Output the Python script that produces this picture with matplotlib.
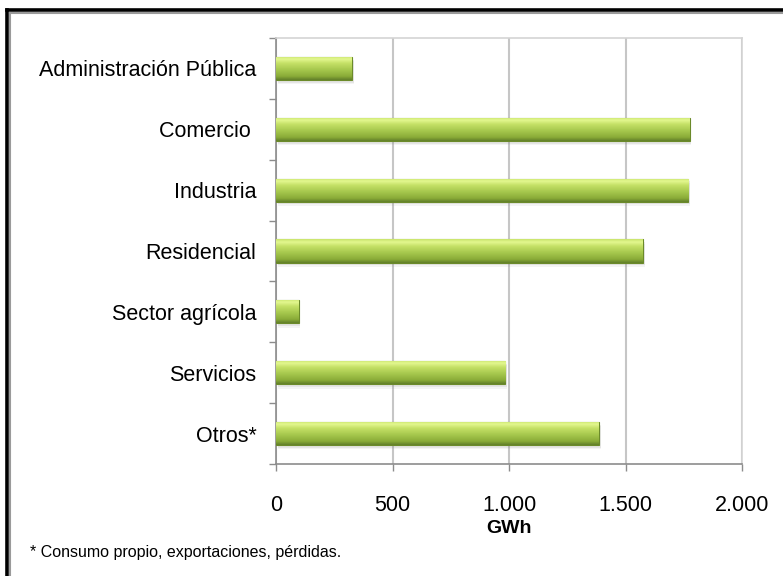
import numpy as np
import matplotlib
matplotlib.use('Agg')
import matplotlib.pyplot as plt
from matplotlib.lines import Line2D
from matplotlib.colors import LinearSegmentedColormap

# Fuente estrecha tipo Arial Narrow (si no está, Liberation Sans)
plt.rcParams['font.family'] = ['Liberation Sans Narrow', 'Liberation Sans', 'DejaVu Sans']

categorias = ['Administración Pública', 'Comercio ', 'Industria', 'Residencial',
              'Sector agrícola', 'Servicios', 'Otros*']
consumo_gwh = [325, 1775, 1770, 1575, 97, 983, 1385]
ticks_x = [0, 500, 1000, 1500, 2000]
etiquetas_x = ['0', '500', '1.000', '1.500', '2.000']
nota = '* Consumo propio, exportaciones, pérdidas.'

W, H = 783, 576
fig = plt.figure(figsize=(W / 100, H / 100), dpi=100, facecolor='white')
ax = fig.add_axes([276 / W, 1 - 464 / H, (742 - 276) / W, (464 - 38) / H])

y = np.arange(len(categorias))
# sombra suave bajo las barras
for dy, a in [(0.07, 0.08), (0.045, 0.12)]:
    ax.barh(y + dy, consumo_gwh, height=0.38, left=8, color='#7f7f7f',
            alpha=a, linewidth=0, zorder=2)
barras = ax.barh(y, consumo_gwh, height=0.38, color='#9cbf45',
                 edgecolor='#6b8a2a', linewidth=0.8, zorder=3)

# degradado vertical tipo biselado de Excel
grad = LinearSegmentedColormap.from_list('verde', [
    (0.0, '#c9e46c'), (0.12, '#e3f78f'), (0.3, '#c4e066'),
    (0.6, '#a3c54b'), (0.85, '#8aab38'), (1.0, '#62802a')])
g = np.linspace(0, 1, 64).reshape(-1, 1)
for b in barras:
    x0, y0, w, h = b.get_x(), b.get_y(), b.get_width(), b.get_height()
    im = ax.imshow(g, cmap=grad, aspect='auto', interpolation='bilinear',
                   extent=[x0, x0 + w, y0 + h, y0], zorder=3.5)
    im.set_clip_path(b)

ax.set_xlim(0, 2000)
ax.set_ylim(len(categorias) - 0.5, -0.5)

ax.set_xticks(ticks_x)
ax.set_xticklabels(etiquetas_x)
ax.tick_params(axis='x', length=5, width=1, color='#8c8c8c', pad=17,
               labelsize=15.5, direction='out')

# marcas entre categorías, etiquetas en el centro
ax.set_yticks(np.arange(-0.5, len(categorias), 1.0))
ax.set_yticklabels([])
ax.set_yticks(y, minor=True)
ax.set_yticklabels(categorias, minor=True)
ax.tick_params(axis='y', which='major', length=5, width=1, color='#8c8c8c')
ax.tick_params(axis='y', which='minor', length=0, pad=14, labelsize=15.5)

ax.grid(axis='x', color='#c6c6c6', linewidth=1.5, zorder=1)
ax.set_axisbelow(True)
for s in ['top', 'right']:
    ax.spines[s].set_color('#d4d4d4')
    ax.spines[s].set_linewidth(1.2)
for s in ['left', 'bottom']:
    ax.spines[s].set_color('#8c8c8c')
    ax.spines[s].set_linewidth(1.2)

ax.set_xlabel('GWh', fontsize=14, fontweight='bold', labelpad=3)
fig.text(30 / W, 1 - 552 / H, nota, fontsize=11.5, va='center', ha='left')

# marco de la imagen (solo borde superior e izquierdo visibles)
fig.add_artist(Line2D([6.5 / W, 1], [1 - 10 / H, 1 - 10 / H], color='black', lw=2.6,
                      transform=fig.transFigure))
fig.add_artist(Line2D([6.5 / W, 6.5 / W], [0, 1 - 10 / H], color='black', lw=2.6,
                      transform=fig.transFigure))
fig.add_artist(Line2D([9.5 / W, 1], [1 - 13 / H, 1 - 13 / H], color='#9a9a9a', lw=1.5,
                      transform=fig.transFigure))
fig.add_artist(Line2D([9.5 / W, 9.5 / W], [0, 1 - 13 / H], color='#9a9a9a', lw=1.5,
                      transform=fig.transFigure))

fig.savefig('out.png', dpi=100, facecolor='white')
